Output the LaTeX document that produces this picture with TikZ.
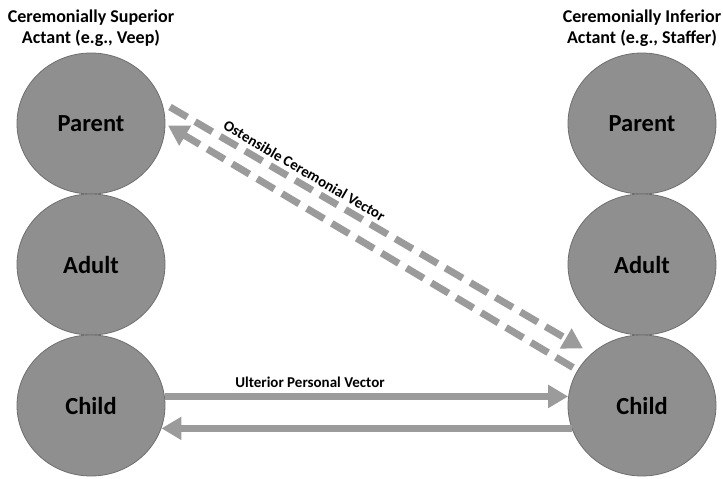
\documentclass[tikz,border=0pt]{standalone}
\usepackage{fontspec}
\setmainfont{Carlito}
\usetikzlibrary{shapes.geometric,arrows.meta,calc}
\definecolor{egofill}{RGB}{143,143,143}
\definecolor{egoedge}{RGB}{110,110,110}
\definecolor{vecgray}{RGB}{155,155,155}
\begin{document}
\begin{tikzpicture}[x=1pt,y=-1pt,
  egostate/.style={ellipse,draw=egoedge,line width=0.8pt,fill=egofill,
    minimum width=148pt,minimum height=141pt,inner sep=0pt,
    font=\bfseries\fontsize{24.5}{26}\selectfont},
  heading/.style={align=center,font=\bfseries\fontsize{18}{20.5}\selectfont},
  vector/.style={draw=vecgray,line width=7pt,
    -{Triangle[width=22pt,length=20pt,fill=vecgray]}},
  dashvec/.style={vector,dash pattern=on 20pt off 9pt},
  veclabel/.style={font=\bfseries\fontsize{15}{17}\selectfont}]
\useasboundingbox (0,0) rectangle (723,479);

% titles
\node[heading] (tl) at (91,28) {Ceremonially Superior\\Actant (e.g., Veep)};
\node[heading] (tr) at (642,28) {Ceremonially Inferior\\Actant (e.g., Staffer)};

% ego states, left
\node[egostate] (lp) at (91,123.5) {Parent};
\node[egostate] (la) at (91,264.5) {Adult};
\node[egostate] (lc) at (91,405.5) {Child};
% ego states, right
\node[egostate] (rp) at (642,123.5) {Parent};
\node[egostate] (ra) at (642,264.5) {Adult};
\node[egostate] (rc) at (642,405.5) {Child};

% ostensible (ceremonial) transaction
\draw[dashvec] ($(lp.center)+(79,-16.5)$) -- ($(rc.center)+(-59,-57)$)
  node[veclabel,pos=0.31,sloped,anchor=south,inner sep=4pt] (ol) {Ostensible Ceremonial Vector};
\draw[dashvec] ($(rc.center)+(-69,-38)$) -- ($(lp.center)+(77,2)$);

% ulterior (personal) transaction
\draw[vector] (lc.7) -- (rc.173)
  node[veclabel,pos=0.36,anchor=south,inner sep=5pt] (ul) {Ulterior Personal Vector};
\draw[vector] (rc.198) -- (lc.-18);
\end{tikzpicture}
\end{document}
